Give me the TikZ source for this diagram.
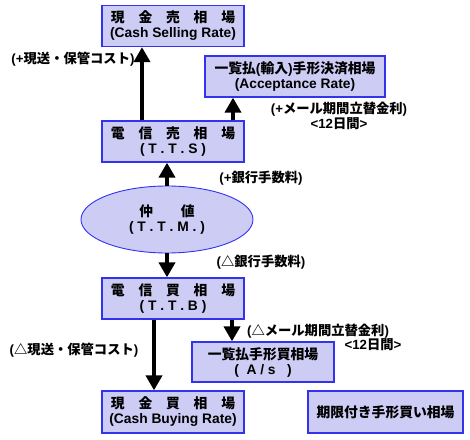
\documentclass[tikz,border=0pt]{standalone}
\usepackage{fontspec}
\setmainfont{Liberation Sans}
\newfontfamily\jpfont{Noto Sans CJK JP}
\usetikzlibrary{arrows.meta}
\usetikzlibrary{shapes.geometric}

\definecolor{ratefill}{RGB}{204,204,245}
\definecolor{rateline}{RGB}{51,51,238}
\newcommand{\jp}[1]{{\jpfont #1}}

\begin{document}
\begin{tikzpicture}[x=1pt,y=-1pt,
  ratebox/.style={draw=rateline,fill=ratefill,line width=1.3pt,align=center,inner sep=0pt,
    font=\bfseries\fontsize{13.8}{15}\selectfont},
  rateoval/.style={ellipse,draw=rateline,fill=ratefill,line width=0.9pt,align=center,inner sep=0pt,
    minimum width=172pt,minimum height=67pt,font=\bfseries\fontsize{13.8}{15}\selectfont},
  spread/.style={line width=4pt,-{Triangle[length=15pt,width=16pt]}},
  note/.style={font=\bfseries\fontsize{13.3}{15}\selectfont,align=center,inner sep=0pt}]
\useasboundingbox (0,0) rectangle (470,439);
% rate boxes
\node[ratebox,minimum width=142pt,minimum height=41pt] (cs) at (173,26) {\jp{現　金　売　相　場}\\(Cash Selling Rate)};
\node[ratebox,minimum width=180pt,minimum height=41pt] (acc) at (295,76.5) {\jp{一覧払}(\jp{輸入})\jp{手形決済相場}\\(Acceptance Rate)};
\node[ratebox,minimum width=142pt,minimum height=41pt] (tts) at (173,141.5) {\jp{電　信　売　相　場}\\( T . T . S )};
\node[rateoval] (ttm) at (167,219.5) {\jp{仲　　値}\\( T . T . M . )};
\node[ratebox,minimum width=142pt,minimum height=41pt] (ttb) at (173,298.5) {\jp{電　信　買　相　場}\\( T . T . B )};
\node[ratebox,minimum width=142pt,minimum height=40pt] (as) at (263,362) {\jp{一覧払手形買相場}\\(\ \ A / s \ \ )};
\node[ratebox,minimum width=142pt,minimum height=42pt] (cb) at (173,412) {\jp{現　金　買　相　場}\\(Cash Buying Rate)};
\node[ratebox,minimum width=155pt,minimum height=42pt] (kg) at (385.5,412) {\jp{期限付き手形買い相場}};
% spreads
\draw[spread] (ttm.north) -- (tts.south -| ttm.north);
\draw[spread] ([xshift=-31pt]tts.north) -- ([xshift=-31pt]cs.south);
\draw[spread] ([xshift=60pt]tts.north) -- ([xshift=60pt]tts.north |- acc.south);
\draw[spread] (ttm.south) -- (ttb.north -| ttm.south);
\draw[spread] ([xshift=-19pt]ttb.south) -- ([xshift=-19pt]cb.north);
\draw[spread] ([xshift=59pt]ttb.south) -- ([xshift=59pt]ttb.south |- as.north);
% notes
\node[note] (n1) at (73,59) {(+\jp{現送・保管コスト})};
\node[note] (n2) at (339,116) {(+\jp{メール期間立替金利})\\<12\jp{日間}>};
\node[note] (n3) at (261,178) {(+\jp{銀行手数料})};
\node[note] (n4) at (261,262) {(\jp{△銀行手数料})};
\node[note] (n5) at (74,350) {(\jp{△現送・保管コスト})};
\node[note] (n6) at (318,331) {(\jp{△メール期間立替金利})};
\node[note] (n7) at (373,345) {<12\jp{日間}>};
\end{tikzpicture}
\end{document}
